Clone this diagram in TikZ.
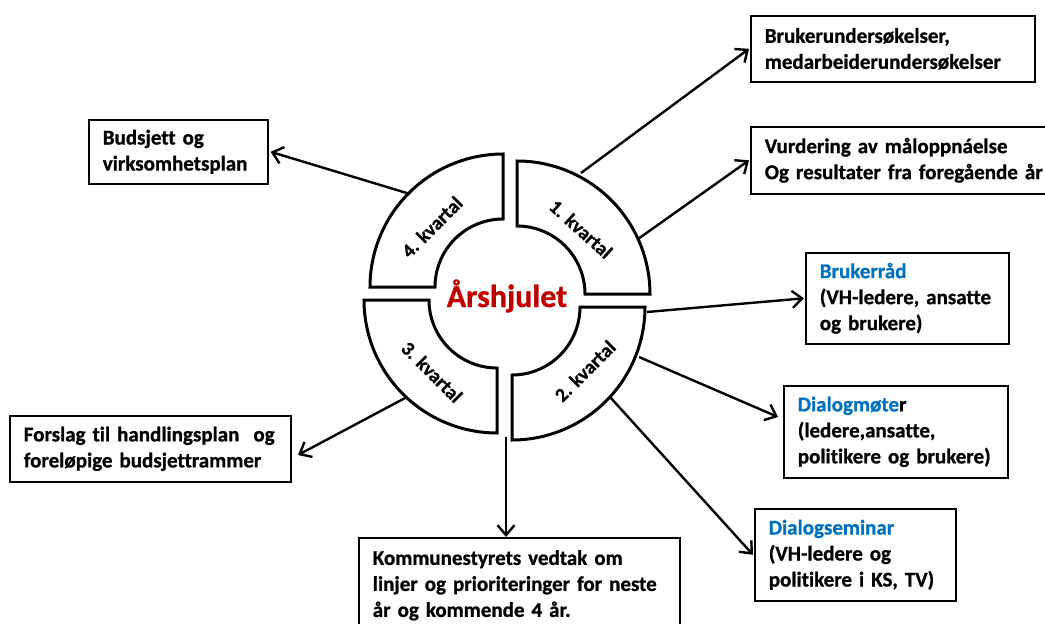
\documentclass[tikz,border=0pt]{standalone}
\usepackage{fontspec}
\setmainfont{Carlito}[Ligatures=NoCommon, BoldFeatures={FakeBold=0.9}]
\usetikzlibrary{arrows.meta}
\definecolor{titlered}{HTML}{C00000}
\definecolor{hlblue}{HTML}{0070C0}
\begin{document}
\begin{tikzpicture}[x=1pt,y=-1pt,
  box/.style={draw, line width=1.6pt, anchor=north west, align=left,
    inner xsep=14pt, inner ysep=0pt,
    font=\fontsize{21}{26}\selectfont\bfseries},
  quad/.style={draw, line width=3pt, line join=miter},
  arr/.style={line width=2.4pt, -{Straight Barb[length=10pt,width=17pt]}},
  qlabel/.style={font=\fontsize{19.5}{22}\selectfont\bfseries, inner sep=0pt},
  hl/.style={text=hlblue}]
\useasboundingbox (0,0) rectangle (1045,624);
\clip (0,0) rectangle (1045,624);

% quadrants of the wheel
\draw[quad] plot[domain=0:90,samples=60] ({517+133*cos(\x)},{294-133*sin(\x)})
  -- plot[domain=90:0,samples=60] ({517+68*cos(\x)},{294-68*sin(\x)}) -- cycle;
\draw[quad] plot[domain=90:180,samples=60] ({503+133*cos(\x)},{287-133*sin(\x)})
  -- plot[domain=180:90,samples=60] ({503+68*cos(\x)},{287-68*sin(\x)}) -- cycle;
\draw[quad] plot[domain=180:270,samples=60] ({497+133*cos(\x)},{300-133*sin(\x)})
  -- plot[domain=270:180,samples=60] ({497+68*cos(\x)},{300-68*sin(\x)}) -- cycle;
\draw[quad] plot[domain=270:360,samples=60] ({512+133*cos(\x)},{307-133*sin(\x)})
  -- plot[domain=360:270,samples=60] ({512+68*cos(\x)},{307-68*sin(\x)}) -- cycle;

\node[qlabel, rotate=-42] (k1) at (581,229) {1. kvartal};
\node[qlabel, rotate=45] (k4) at (432,227) {4. kvartal};
\node[qlabel, rotate=-45] (k3) at (432,372) {3. kvartal};
\node[qlabel, rotate=45] (k2) at (585,371) {2. kvartal};

\node[font=\fontsize{32}{36}\selectfont\bfseries, text=titlered, anchor=base, inner sep=0pt] (title) at (507,307) {Årshjulet};

% boxes
\node[box, minimum width=284pt, minimum height=66pt, text width=256pt] (b1) at (750,15)
  {\mbox{Brukerundersøkelser,}\\\mbox{medarbeiderundersøkelser}};
\node[box, minimum width=300pt, minimum height=67pt, text width=272pt] (b2) at (750,126)
  {\mbox{Vurdering av måloppnáelse}\\\mbox{Og resultater fra foregående år}};
\node[box, minimum width=203pt, minimum height=91pt, text width=175pt] (b3) at (805,252)
  {\mbox{\textcolor{hlblue}{Brukerråd}}\\\mbox{(VH-ledere, ansatte}\\\mbox{og brukere)}};
\node[box, minimum width=224pt, minimum height=92pt, text width=196pt] (b4) at (783,385)
  {\mbox{\textcolor{hlblue}{Dialogmøte}r}\\\mbox{(ledere,ansatte,}\\\mbox{politikere og brukere)}};
\node[box, minimum width=201pt, minimum height=92pt, text width=173pt] (b5) at (754,508)
  {\mbox{\textcolor{hlblue}{Dialogseminar}}\\\mbox{(VH-ledere og}\\\mbox{politikere i KS, TV)}};
\node[box, minimum width=179pt, minimum height=64pt, text width=151pt] (b6) at (88,119)
  {\mbox{Budsjett og}\\\mbox{virksomhetsplan}};
\node[box, minimum width=281pt, minimum height=66pt, text width=253pt] (b7) at (9,415)
  {\mbox{Forslag til handlingsplan\ \ og}\\\mbox{foreløpige budsjettrammer}};
\node[box, minimum width=321pt, minimum height=95pt, text width=293pt] (b8) at (358,537)
  {\mbox{Kommunestyrets vedtak om}\\\mbox{linjer og prioriteringer for neste}\\\mbox{år og kommende 4 år.}};

% connector start points on the wheel
\coordinate (a1) at (581,173);
\coordinate (a2) at (638,239);
\coordinate (a3) at (647,312);
\coordinate (a4) at (639,357);
\coordinate (a5) at (610,397);
\coordinate (a6) at (410,194);
\coordinate (a7) at (407,397);
\coordinate (a8) at (506,437);
\coordinate (t4) at (778,417);
\coordinate (t7) at (298,455);

\draw[arr] (a1) -- ([xshift=-1pt]b1.west);
\draw[arr] (a2) -- ([xshift=-1pt]b2.west);
\draw[arr] (a3) -- ([xshift=-1pt]b3.west);
\draw[arr] (a4) -- (t4);
\draw[arr] (a5) -- ([xshift=-1pt]b5.west);
\draw[arr] (a6) -- ([xshift=2pt]b6.east);
\draw[arr] (a7) -- (t7);
\draw[arr] (a8) -- (a8 |- b8.north);
\end{tikzpicture}
\end{document}
